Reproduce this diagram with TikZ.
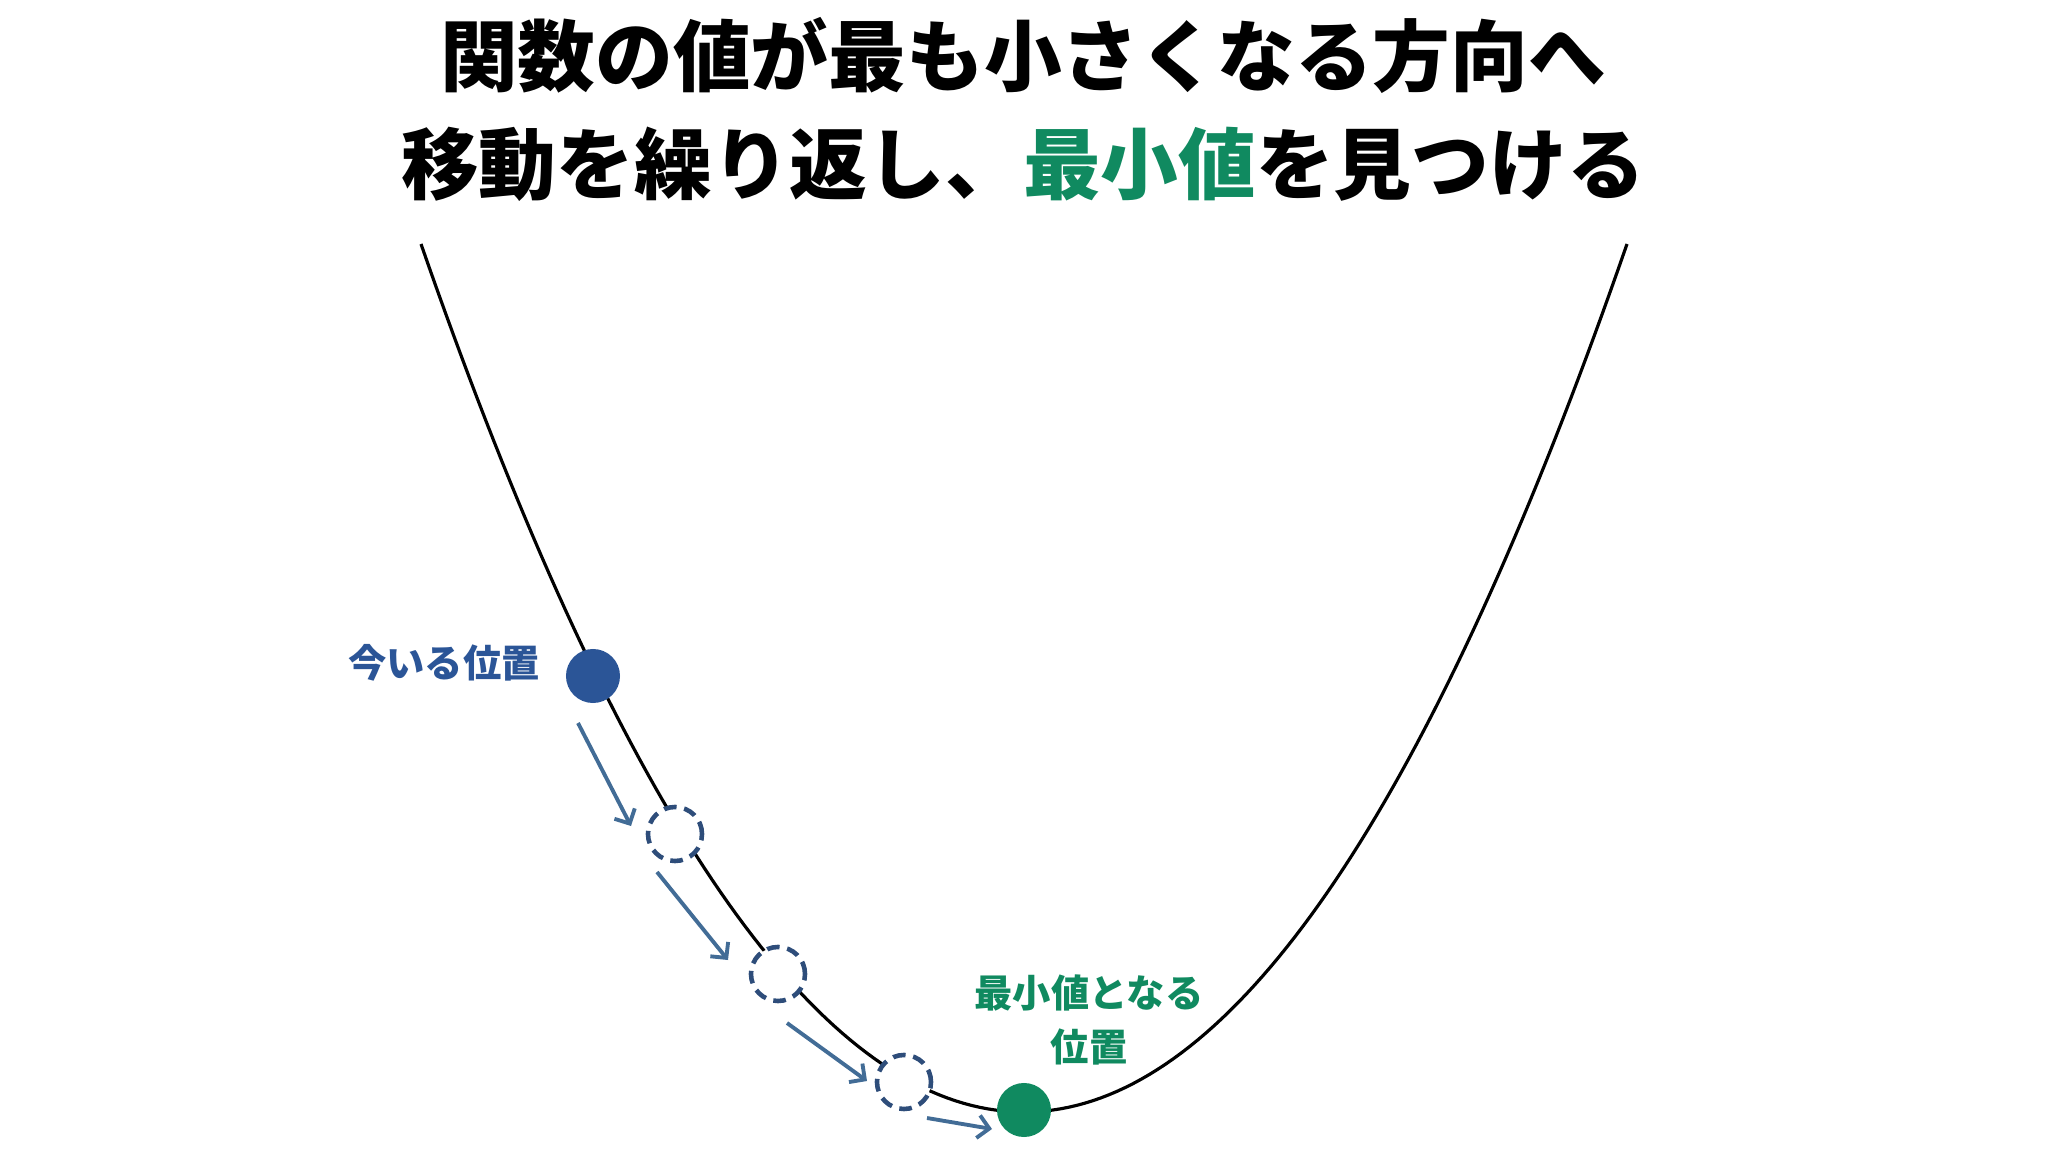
\documentclass[tikz,border=0pt]{standalone}
\usepackage{fontspec}
\setmainfont{Noto Sans CJK JP}
\usepackage{xcolor}
\usepackage{tikz}
\usetikzlibrary{arrows.meta, positioning}

\definecolor{nowblue}{RGB}{43,85,151}
\definecolor{ghostblue}{RGB}{46,77,122}
\definecolor{moveblue}{RGB}{66,108,150}
\definecolor{mingreen}{RGB}{16,138,96}

\begin{document}
\begin{tikzpicture}[x=0.01cm, y=-0.01cm,
    curve/.style={black, line width=0.9pt},
    dot/.style={circle, minimum size=0.54cm, inner sep=0pt},
    ghost/.style={dot, draw=ghostblue, fill=white, line width=1.3pt, dash pattern=on 3.6pt off 2.2pt},
    moveline/.style={moveblue, line width=1.1pt, -{Straight Barb[length=3.2pt, width=6.5pt]}}]
    \useasboundingbox (0,0) rectangle (2048,1152);

    % title
    \node[font=\bfseries\fontsize{22.1}{30.7}\selectfont, align=center, inner sep=0pt] (title) at (1023,109)
        {関数の値が最も小さくなる方向へ\\移動を繰り返し、\textcolor{mingreen}{最小値}を見つける};

    % function
    \draw[curve] plot[domain=421:1627, samples=150] (\x, {1112-((\x-1024)*0.048857)^2});

    % positions
    \node[dot, fill=nowblue] (now) at (593,676) {};
    \node[ghost] (g1) at (675,834) {};
    \node[ghost] (g2) at (778,974) {};
    \node[ghost] (g3) at (904,1082) {};
    \node[dot, fill=mingreen] (min) at (1024,1110) {};

    % steps
    \coordinate (s1) at (578,723);  \coordinate (e1) at (631,826);
    \coordinate (s2) at (657,872);  \coordinate (e2) at (728,960);
    \coordinate (s3) at (787,1023); \coordinate (e3) at (867,1081);
    \coordinate (s4) at (927,1118); \coordinate (e4) at (992,1129);
    \draw[moveline] (s1) -- (e1);
    \draw[moveline] (s2) -- (e2);
    \draw[moveline] (s3) -- (e3);
    \draw[moveline] (s4) -- (e4);

    % labels
    \node[font=\bfseries\fontsize{10.9}{13}\selectfont, text=nowblue, inner sep=0pt] (nowlabel) at (444,663) {今いる位置};
    \node[font=\bfseries\fontsize{10.9}{15.4}\selectfont, text=mingreen, align=center, inner sep=0pt] (minlabel) at (1089,1020)
        {最小値となる\\位置};
\end{tikzpicture}
\end{document}
